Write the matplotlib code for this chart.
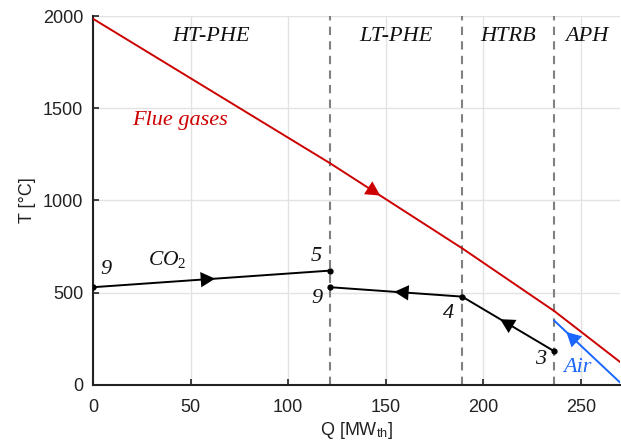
import numpy as np
import matplotlib
matplotlib.use("Agg")
import matplotlib.pyplot as plt

plt.rcParams['font.family'] = ['Liberation Sans', 'DejaVu Sans']
plt.rcParams['mathtext.fontset'] = 'custom'
plt.rcParams['mathtext.it'] = 'Liberation Serif:italic'
plt.rcParams['mathtext.rm'] = 'Liberation Serif'

# ---- data ----
section_names = ['HT-PHE', 'LT-PHE', 'HTRB', 'APH']
boundaries = [121.5, 189.2, 236.4]

flue_Q = [0, 121.5, 189.2, 236.4, 270]
flue_T = [1985, 1202, 741, 401, 126]

co2_hot_Q = [0, 121.5]
co2_hot_T = [530, 620]

co2_cold_Q = [236.4, 189.2, 121.5]
co2_cold_T = [183, 479, 530]

air_Q = [270, 236.4]
air_T = [15, 349]

state_labels = ['9', '5', '9', '4', '3']

RED = '#CC0000'
BLUE = '#1A66FF'

fig = plt.figure(figsize=(6.21, 4.46), dpi=100)
ax = fig.add_axes([0.1498, 0.1368, 0.8482, 0.8273])

ax.set_xlim(0, 270)
ax.set_ylim(0, 2000)
ax.set_xticks([0, 50, 100, 150, 200, 250])
ax.set_yticks([0, 500, 1000, 1500, 2000])
ax.grid(True, color='#E3E3E3', lw=1.0)
ax.set_axisbelow(True)
for s in ['top', 'right']:
    ax.spines[s].set_visible(False)
for s in ['left', 'bottom']:
    ax.spines[s].set_linewidth(1.5)
    ax.spines[s].set_color('#222222')
ax.tick_params(direction='in', length=4, width=1.2, labelsize=13, colors='#222222')
ax.tick_params(axis='x', pad=10)
ax.tick_params(axis='y', pad=7)

# section boundaries
for b in boundaries:
    ax.axvline(b, color='#808080', lw=1.5, ls=(0, (4, 3)), zorder=1)

# section labels
edges = [0] + boundaries + [270]
for i, name in enumerate(section_names):
    xc = 0.5 * (edges[i] + edges[i + 1])
    ax.text(xc, 1890, name, family='Liberation Serif', style='italic', fontsize=16,
            ha='center', va='center', color='#111111')

# lines
ax.plot(flue_Q, flue_T, color=RED, lw=1.4, zorder=3)
ax.plot(co2_hot_Q, co2_hot_T, color='black', lw=1.4, marker='o', ms=3.5, zorder=4)
ax.plot(co2_cold_Q, co2_cold_T, color='black', lw=1.4, marker='o', ms=3.5, zorder=4)
ax.plot(air_Q, air_T, color=BLUE, lw=1.4, zorder=3)

fig.canvas.draw()


def arrow_on(Q, T, i, frac, color):
    q0, q1 = Q[i], Q[i + 1]
    t0, t1 = T[i], T[i + 1]
    qt = q0 + frac * (q1 - q0)
    tt = t0 + frac * (t1 - t0)
    p0 = ax.transData.transform((q0, t0))
    p1 = ax.transData.transform((q1, t1))
    d = (p1 - p0) / np.hypot(*(p1 - p0))
    off = -24 * d
    ax.annotate('', xy=(qt, tt), xytext=(off[0], off[1]), textcoords='offset pixels',
                arrowprops=dict(arrowstyle='-|>,head_length=0.9,head_width=0.48',
                                color=color, lw=0, shrinkA=0, shrinkB=0,
                                mutation_scale=11.5), zorder=5)


arrow_on(co2_hot_Q, co2_hot_T, 0, 0.515, 'black')
arrow_on(flue_Q, flue_T, 1, 0.38, RED)
arrow_on(co2_cold_Q, co2_cold_T, 1, 0.514, 'black')
arrow_on(co2_cold_Q, co2_cold_T, 0, 0.587, 'black')
arrow_on(air_Q, air_T, 0, 0.815, BLUE)

# text labels
lab_kw = dict(family='Liberation Serif', style='italic', fontsize=16, ha='center', va='center')
pos = [(6.7, 625), (114.5, 694), (115.0, 468), (182, 390), (229.5, 140)]
for s, (x, y) in zip(state_labels, pos):
    ax.text(x, y, s, color='#111111', **lab_kw)

ax.text(38, 678, r'$\mathit{CO_2}$', fontsize=15.5, ha='center', va='center', color='#111111')
ax.text(44.6, 1436, 'Flue gases', color=RED, **lab_kw)
ax.text(248.5, 97, 'Air', color=BLUE, **lab_kw)

ax.set_ylabel('T [°C]', fontsize=13, color='#222222', labelpad=5)
ax.set_xlabel(r'Q [MW$_\mathregular{th}$]', fontsize=13, color='#222222', labelpad=3)

fig.savefig('out.png', dpi=100)
